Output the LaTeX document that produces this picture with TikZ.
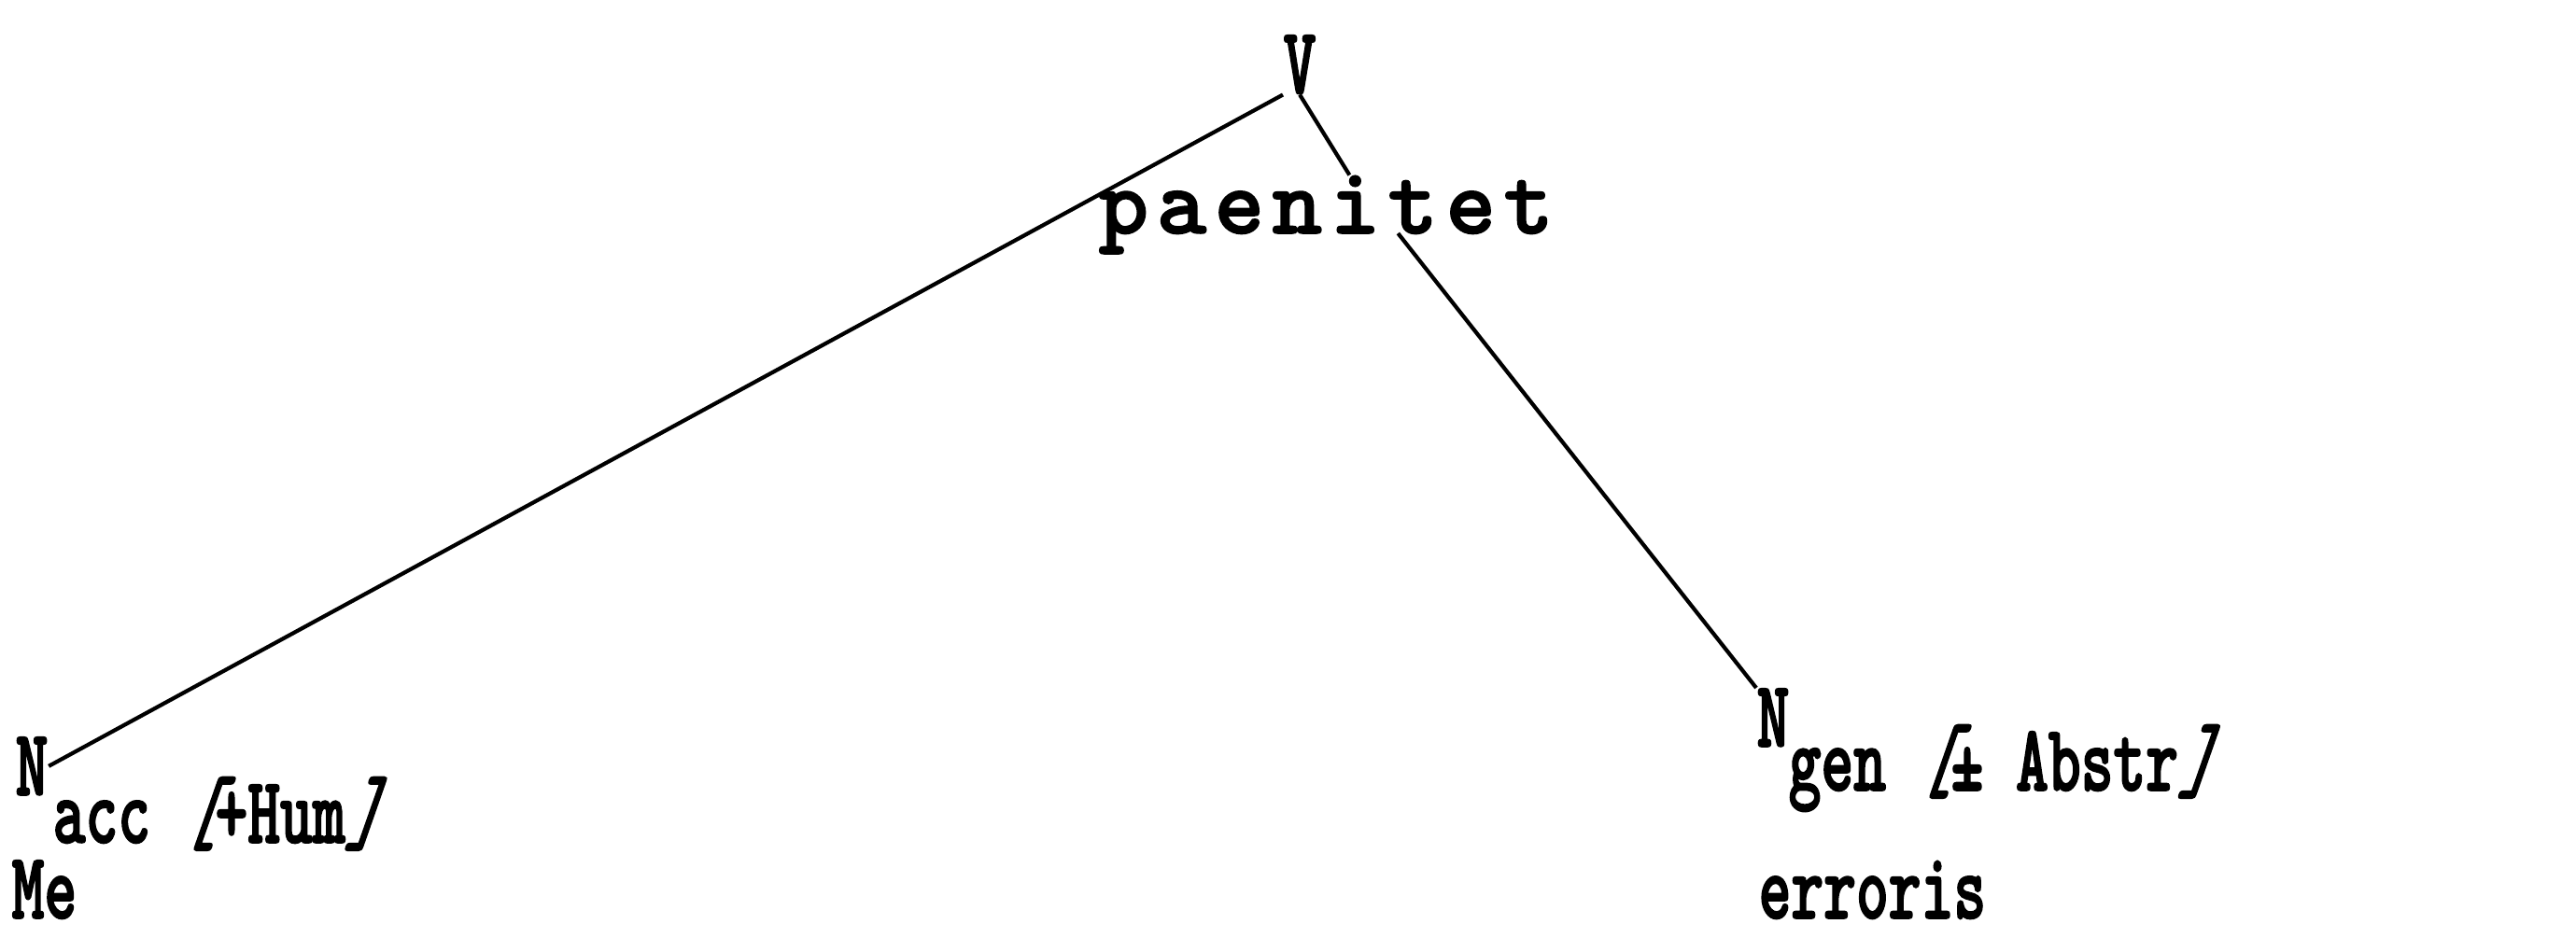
\documentclass[tikz,border=0pt]{standalone}
\usepackage{fontspec}
\usetikzlibrary{positioning,calc}
\newfontfamily\schreib{lmmonolt10-bold}[Extension=.otf, FakeStretch=0.65, FakeBold=1.5]
\newfontfamily\schreibweit{lmmonolt10-bold}[Extension=.otf, LetterSpace=8.3, FakeBold=1.5]
\newcommand{\kl}[1]{{\addfontfeature{FakeSlant=0.35}#1}}
\tikzstyle{wort} = [inner sep=0pt, anchor=base west, font=\schreib\fontsize{29}{35}\selectfont]
\tikzstyle{kante} = [draw, line width=1.2pt]

\begin{document}
\begin{tikzpicture}[x=1cm, y=1cm]
	\useasboundingbox (0,0) rectangle (27.59,-10.05); % Bildbereich
	% Knoten
	\node[wort] (V) at (13.74,-1.00) {V};
	\node[wort, font=\schreibweit\fontsize{29}{35}\selectfont] (paen) at (11.76,-2.50) {paenitet};
	\node[wort] (Nacc) at (0.16,-8.52) {N};
	\node[wort] (acc) at (0.56,-9.03) {acc \kl{[}+Hum\kl{]}};
	\node[wort] (Me) at (0.12,-9.84) {Me};
	\node[wort] (Ngen) at (18.81,-8.00) {N};
	\node[wort] (gen) at (19.15,-8.47) {gen \kl{[}± Abstr\kl{]}};
	\node[wort] (err) at (18.83,-9.84) {erroris};
	% Kanten
	\draw[kante] (V.south west) -- (Nacc.east);
	\draw[kante] (V.south) -- ([xshift=0.25cm]paen.north);
	\draw[kante] ([xshift=0.77cm]paen.base) -- (Ngen.north west);
\end{tikzpicture}
\end{document}
